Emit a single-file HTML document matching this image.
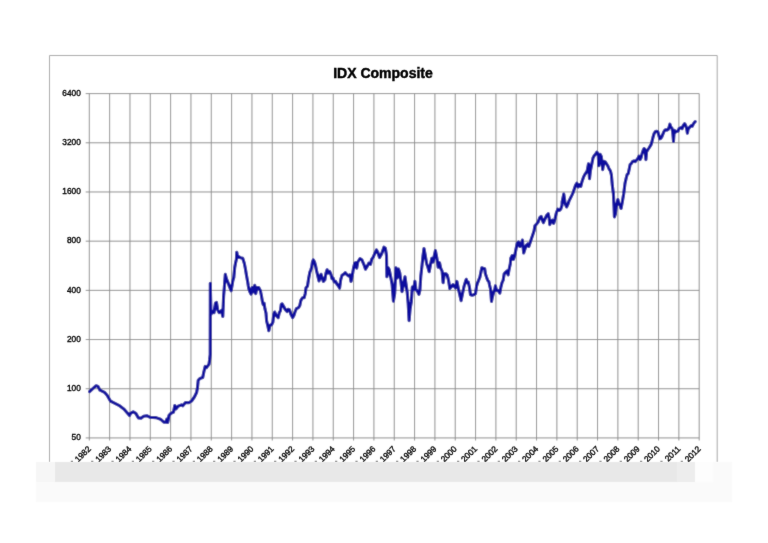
<!DOCTYPE html>
<html><head><meta charset="utf-8"><style>
html,body{margin:0;padding:0;background:#fff;}
body{width:768px;height:543px;overflow:hidden;position:relative;}
svg{position:absolute;left:0;top:0;}
.ax text{font-family:"Liberation Sans",Arial,sans-serif;font-size:8.3px;fill:#111;stroke:#111;stroke-width:0.4px;}
.ttl{font-family:"Liberation Sans",Arial,sans-serif;font-size:14px;font-weight:bold;fill:#000;stroke:#000;stroke-width:0.45px;}
</style></head><body>
<svg width="768" height="543" viewBox="0 0 768 543">
<defs><filter id="bl" x="0" y="0" width="768" height="543" filterUnits="userSpaceOnUse"><feConvolveMatrix order="3" kernelMatrix="0.02 0.08 0.02 0.08 0.6 0.08 0.02 0.08 0.02" edgeMode="duplicate" preserveAlpha="false"/></filter><filter id="bt" x="0" y="0" width="768" height="543" filterUnits="userSpaceOnUse"><feConvolveMatrix order="3" kernelMatrix="0.01 0.05 0.01 0.05 0.76 0.05 0.01 0.05 0.01" edgeMode="none" preserveAlpha="false"/></filter></defs>
<g filter="url(#bl)">
<rect x="0" y="0" width="768" height="543" fill="#fff"/>
<path d="M49.5 462V55.5H717.2V462" stroke="#a4a4a4" stroke-width="1" fill="none"/>
<path d="M89.30 93.60V440.53M109.63 93.60V440.53M129.96 93.60V440.53M150.29 93.60V440.53M170.62 93.60V440.53M190.95 93.60V440.53M211.28 93.60V440.53M231.61 93.60V440.53M251.94 93.60V440.53M272.27 93.60V440.53M292.60 93.60V440.53M312.93 93.60V440.53M333.26 93.60V440.53M353.59 93.60V440.53M373.92 93.60V440.53M394.25 93.60V440.53M414.58 93.60V440.53M434.91 93.60V440.53M455.24 93.60V440.53M475.57 93.60V440.53M495.90 93.60V440.53M516.23 93.60V440.53M536.56 93.60V440.53M556.89 93.60V440.53M577.22 93.60V440.53M597.55 93.60V440.53M617.88 93.60V440.53M638.21 93.60V440.53M658.54 93.60V440.53M678.87 93.60V440.53M699.20 93.60V440.53M85.70 93.60H699.20M85.70 142.79H699.20M85.70 191.98H699.20M85.70 241.17H699.20M85.70 290.36H699.20M85.70 339.55H699.20M85.70 388.74H699.20M85.70 437.93H699.20" stroke="#8e8e8e" stroke-width="1" fill="none"/>
<path d="M89.6 391.6 L92.8 388.6 L96.1 385.7 L98.0 386.4 L100.0 390.2 L104.5 392.3 L107.1 395.2 L110.4 401.0 L113.0 402.3 L118.9 405.3 L124.1 409.2 L129.5 415.6 L130.6 413.4 L133.2 411.8 L135.8 413.4 L138.4 417.9 L141.0 418.3 L143.6 416.3 L146.8 415.7 L150.1 417.3 L156.0 417.6 L160.5 419.2 L163.8 422.2 L165.7 422.2 L166.8 419.2 L167.7 422.5 L169.0 415.3 L170.9 413.4 L173.5 412.1 L174.8 405.6 L176.1 408.8 L178.1 406.2 L181.4 404.9 L182.8 405.8 L185.5 402.5 L188.8 402.8 L191.6 401.0 L194.4 397.0 L196.6 392.5 L197.5 387.6 L198.2 380.4 L199.9 378.5 L202.7 377.6 L203.8 372.1 L205.2 366.4 L206.5 367.7 L208.9 364.4 L209.6 360.0 L210.2 354.4 L210.3 283.3 L211.0 314.2 L212.5 311.2 L214.0 312.7 L215.5 303.1 L216.5 302.4 L217.7 309.8 L219.1 312.7 L221.4 310.5 L222.8 316.4 L223.6 296.5 L224.3 287.7 L225.3 274.4 L226.5 278.8 L227.8 282.0 L229.4 286.4 L231.1 290.8 L231.9 286.4 L232.7 281.4 L233.8 277.6 L234.7 267.6 L235.5 263.2 L236.4 259.3 L236.8 252.2 L237.7 257.7 L238.8 256.6 L240.5 257.7 L242.7 258.2 L244.3 263.2 L245.4 268.7 L246.5 275.4 L247.7 282.0 L248.2 285.3 L248.8 288.6 L249.9 291.9 L251.0 294.1 L252.1 287.5 L253.2 291.9 L254.8 285.3 L255.7 293.6 L257.0 287.5 L258.7 287.5 L260.4 290.8 L261.4 295.5 L262.5 302.1 L263.3 304.9 L264.1 303.2 L264.9 308.7 L266.0 313.1 L266.6 320.9 L267.7 325.3 L268.8 330.8 L269.9 325.3 L271.6 324.8 L272.9 322.0 L273.8 314.3 L274.7 312.0 L276.0 315.4 L278.2 317.6 L279.3 312.6 L280.4 310.9 L281.3 304.3 L282.1 303.8 L283.7 306.5 L285.4 309.8 L287.0 311.5 L288.1 309.3 L289.5 309.8 L290.9 314.3 L292.6 317.6 L293.9 315.4 L295.0 312.0 L296.4 308.7 L298.6 307.6 L299.8 305.4 L300.9 300.4 L302.5 297.7 L304.2 297.7 L305.3 293.3 L306.0 287.7 L307.5 286.1 L308.8 277.6 L309.9 272.0 L310.8 269.8 L311.6 267.6 L312.4 262.1 L313.3 259.9 L314.6 262.1 L315.5 265.4 L316.6 270.9 L317.9 276.5 L319.0 280.9 L319.9 277.6 L321.0 274.3 L322.1 277.6 L323.4 281.4 L324.9 279.8 L326.0 273.1 L327.1 269.8 L328.2 273.1 L329.6 271.5 L330.9 274.3 L332.0 278.7 L333.1 278.1 L334.3 282.0 L335.6 281.4 L337.0 284.2 L338.7 286.4 L339.6 288.1 L340.7 279.8 L342.0 275.4 L343.6 274.3 L345.3 272.6 L347.0 274.8 L348.6 275.9 L349.9 274.8 L351.0 281.4 L352.5 274.3 L353.6 267.6 L354.7 263.2 L355.8 262.7 L356.7 268.1 L357.8 262.0 L360.0 258.7 L361.9 259.8 L363.8 264.3 L365.5 269.2 L367.2 266.5 L368.8 263.1 L370.5 264.3 L371.6 259.3 L373.2 257.1 L374.9 253.2 L376.5 249.9 L377.7 252.1 L379.5 257.6 L381.5 254.3 L382.6 251.0 L384.0 247.1 L385.4 248.2 L386.5 255.4 L386.9 276.8 L388.2 267.7 L389.3 269.8 L390.2 274.2 L392.1 284.5 L393.4 301.2 L394.7 293.5 L396.0 267.7 L397.2 278.0 L398.5 269.0 L399.8 272.9 L401.1 283.2 L402.0 291.6 L403.3 285.8 L405.0 276.8 L405.9 283.2 L407.2 292.2 L408.2 303.8 L409.1 320.6 L410.1 309.0 L411.4 301.2 L412.3 287.1 L413.6 289.6 L414.9 281.3 L415.9 289.6 L417.2 290.9 L418.9 294.3 L419.9 290.4 L420.8 276.2 L422.1 264.6 L423.0 255.6 L424.0 248.5 L425.3 255.6 L426.6 263.4 L427.9 267.2 L429.2 271.7 L430.5 264.6 L431.8 258.2 L433.0 262.1 L434.3 255.6 L435.4 250.5 L436.9 258.2 L438.2 267.2 L439.5 262.7 L440.8 268.5 L442.1 271.1 L443.1 282.7 L444.4 273.7 L445.9 273.7 L447.2 275.0 L448.5 280.1 L449.8 288.5 L451.7 286.5 L453.0 284.6 L454.3 286.5 L455.6 287.8 L456.9 281.4 L458.2 287.8 L459.5 293.6 L461.1 300.7 L462.4 294.3 L464.0 286.5 L465.5 281.4 L466.3 279.3 L467.0 282.6 L468.3 282.1 L469.4 287.0 L470.5 294.8 L472.2 295.3 L473.8 294.8 L475.5 293.7 L476.6 285.9 L477.7 282.6 L478.8 279.9 L479.9 277.1 L481.0 271.6 L481.8 267.7 L483.2 268.3 L484.7 268.8 L485.4 273.8 L486.5 277.1 L487.7 280.4 L488.8 281.5 L489.5 284.8 L490.6 289.3 L491.5 301.4 L492.4 297.0 L493.5 292.6 L494.6 290.4 L495.4 285.9 L496.5 290.4 L498.1 290.4 L499.8 293.1 L500.9 287.0 L502.0 282.6 L503.1 280.4 L504.2 273.8 L505.7 272.1 L507.0 271.0 L508.1 274.9 L509.2 268.8 L510.3 263.8 L510.8 258.1 L512.1 255.6 L513.4 259.4 L514.7 255.6 L516.0 249.1 L517.2 243.3 L518.5 242.0 L519.8 246.5 L521.1 245.3 L522.4 240.1 L523.7 253.0 L525.0 249.1 L526.3 245.3 L527.6 244.0 L528.8 246.5 L530.1 242.7 L531.4 238.8 L532.7 234.9 L534.0 231.1 L534.9 225.9 L536.6 224.0 L538.2 222.1 L539.8 217.6 L541.1 216.3 L542.4 220.1 L543.4 222.7 L545.0 218.8 L546.5 215.6 L548.2 213.7 L549.1 217.6 L549.8 224.6 L551.1 220.8 L552.4 220.1 L553.7 223.4 L555.0 218.8 L556.3 213.0 L557.8 209.2 L559.4 210.5 L560.7 209.2 L562.0 205.3 L562.1 201.9 L563.8 194.1 L565.1 203.1 L566.6 207.0 L567.9 204.4 L569.2 200.6 L570.5 198.0 L571.8 195.4 L573.0 192.8 L574.3 189.0 L575.6 185.1 L576.9 183.2 L578.2 187.0 L579.5 184.5 L580.8 186.4 L582.1 181.2 L583.4 177.4 L584.6 174.8 L585.9 172.9 L587.2 170.9 L588.5 163.8 L589.5 178.7 L590.4 170.9 L591.7 164.5 L593.0 158.0 L594.3 155.5 L595.6 154.2 L596.9 152.2 L598.2 154.2 L598.8 165.8 L600.1 154.2 L601.4 156.8 L602.7 169.6 L604.0 161.3 L605.3 161.9 L606.5 163.8 L607.8 165.8 L609.1 169.0 L610.4 170.9 L611.4 174.8 L612.3 185.1 L613.4 193.7 L614.0 206.5 L614.4 216.9 L615.3 214.3 L616.3 206.5 L617.2 202.7 L617.9 199.5 L618.9 204.0 L620.2 205.3 L621.1 208.5 L622.4 201.4 L623.7 193.7 L625.0 183.4 L626.3 177.6 L627.2 174.3 L628.2 173.7 L629.2 169.2 L630.1 164.7 L631.4 163.4 L632.7 161.4 L634.0 160.8 L635.3 161.6 L636.5 160.1 L638.0 158.1 L639.0 156.1 L640.1 159.6 L641.1 157.6 L642.1 153.5 L643.1 150.5 L644.1 148.5 L645.1 149.5 L645.9 159.6 L646.6 151.5 L647.7 150.0 L648.7 148.5 L650.0 146.4 L651.2 144.4 L652.0 141.4 L653.0 137.3 L654.2 133.3 L655.2 131.8 L656.5 131.3 L657.8 131.8 L658.8 135.3 L659.8 138.8 L660.8 138.3 L661.8 136.8 L662.8 134.3 L663.8 131.8 L664.9 130.2 L665.9 129.7 L666.9 130.2 L667.9 129.7 L668.9 127.7 L669.9 124.2 L670.9 127.2 L671.9 128.2 L672.7 131.8 L673.5 141.4 L674.3 130.2 L675.3 132.3 L676.5 131.3 L678.0 131.3 L679.0 128.7 L680.0 128.2 L681.1 127.7 L682.1 128.7 L683.1 125.7 L684.6 123.7 L685.6 125.2 L686.6 128.2 L687.4 133.3 L688.1 129.2 L689.7 127.2 L691.2 125.7 L692.2 126.2 L693.2 124.2 L694.7 122.1 L695.2 121.6" stroke="#0b0b9e" stroke-width="3.1" fill="none" stroke-linejoin="round" stroke-linecap="round"/>
</g>
<g filter="url(#bt)">
<text class="ttl" x="383" y="77.8" text-anchor="middle">IDX Composite</text>
<g class="ax">
<text x="80.8" y="95.80" text-anchor="end">6400</text><text x="80.8" y="144.99" text-anchor="end">3200</text><text x="80.8" y="194.18" text-anchor="end">1600</text><text x="80.8" y="243.37" text-anchor="end">800</text><text x="80.8" y="292.56" text-anchor="end">400</text><text x="80.8" y="341.75" text-anchor="end">200</text><text x="80.8" y="390.94" text-anchor="end">100</text><text x="80.8" y="440.13" text-anchor="end">50</text>
<text transform="translate(91.40 449.50) rotate(-45)" text-anchor="end">1982</text><text transform="translate(111.73 449.50) rotate(-45)" text-anchor="end">1983</text><text transform="translate(132.06 449.50) rotate(-45)" text-anchor="end">1984</text><text transform="translate(152.39 449.50) rotate(-45)" text-anchor="end">1985</text><text transform="translate(172.72 449.50) rotate(-45)" text-anchor="end">1986</text><text transform="translate(193.05 449.50) rotate(-45)" text-anchor="end">1987</text><text transform="translate(213.38 449.50) rotate(-45)" text-anchor="end">1988</text><text transform="translate(233.71 449.50) rotate(-45)" text-anchor="end">1989</text><text transform="translate(254.04 449.50) rotate(-45)" text-anchor="end">1990</text><text transform="translate(274.37 449.50) rotate(-45)" text-anchor="end">1991</text><text transform="translate(294.70 449.50) rotate(-45)" text-anchor="end">1992</text><text transform="translate(315.03 449.50) rotate(-45)" text-anchor="end">1993</text><text transform="translate(335.36 449.50) rotate(-45)" text-anchor="end">1994</text><text transform="translate(355.69 449.50) rotate(-45)" text-anchor="end">1995</text><text transform="translate(376.02 449.50) rotate(-45)" text-anchor="end">1996</text><text transform="translate(396.35 449.50) rotate(-45)" text-anchor="end">1997</text><text transform="translate(416.68 449.50) rotate(-45)" text-anchor="end">1998</text><text transform="translate(437.01 449.50) rotate(-45)" text-anchor="end">1999</text><text transform="translate(457.34 449.50) rotate(-45)" text-anchor="end">2000</text><text transform="translate(477.67 449.50) rotate(-45)" text-anchor="end">2001</text><text transform="translate(498.00 449.50) rotate(-45)" text-anchor="end">2002</text><text transform="translate(518.33 449.50) rotate(-45)" text-anchor="end">2003</text><text transform="translate(538.66 449.50) rotate(-45)" text-anchor="end">2004</text><text transform="translate(558.99 449.50) rotate(-45)" text-anchor="end">2005</text><text transform="translate(579.32 449.50) rotate(-45)" text-anchor="end">2006</text><text transform="translate(599.65 449.50) rotate(-45)" text-anchor="end">2007</text><text transform="translate(619.98 449.50) rotate(-45)" text-anchor="end">2008</text><text transform="translate(640.31 449.50) rotate(-45)" text-anchor="end">2009</text><text transform="translate(660.64 449.50) rotate(-45)" text-anchor="end">2010</text><text transform="translate(680.97 449.50) rotate(-45)" text-anchor="end">2011</text><text transform="translate(701.30 449.50) rotate(-45)" text-anchor="end">2012</text>
</g>
<path d="M70.80 461.3h2.2M91.13 461.3h2.2M111.46 461.3h2.2M131.79 461.3h2.2M152.12 461.3h2.2M172.45 461.3h2.2M192.78 461.3h2.2M213.11 461.3h2.2M233.44 461.3h2.2M253.77 461.3h2.2M274.10 461.3h2.2M294.43 461.3h2.2M314.76 461.3h2.2M335.09 461.3h2.2M355.42 461.3h2.2M375.75 461.3h2.2M396.08 461.3h2.2M416.41 461.3h2.2M436.74 461.3h2.2M457.07 461.3h2.2M477.40 461.3h2.2M497.73 461.3h2.2M518.06 461.3h2.2M538.39 461.3h2.2M558.72 461.3h2.2M579.05 461.3h2.2M599.38 461.3h2.2M619.71 461.3h2.2M640.04 461.3h2.2M660.37 461.3h2.2M680.70 461.3h2.2" stroke="#666" stroke-width="1" fill="none"/>
</g>
<g filter="url(#bl)">
<rect x="36" y="462" width="19" height="20" fill="#f6f6f6"/>
<rect x="55" y="462" width="622" height="20" fill="#e8e8e8"/>
<rect x="677" y="462" width="18" height="20" fill="#ededed"/>
<rect x="695" y="462" width="18" height="20" fill="#fdfdfd"/>
<rect x="713" y="462" width="19" height="40" fill="#fafafa"/>
<rect x="36" y="482" width="677" height="20" fill="#fafafa"/>
</g>
</svg>
</body></html>
